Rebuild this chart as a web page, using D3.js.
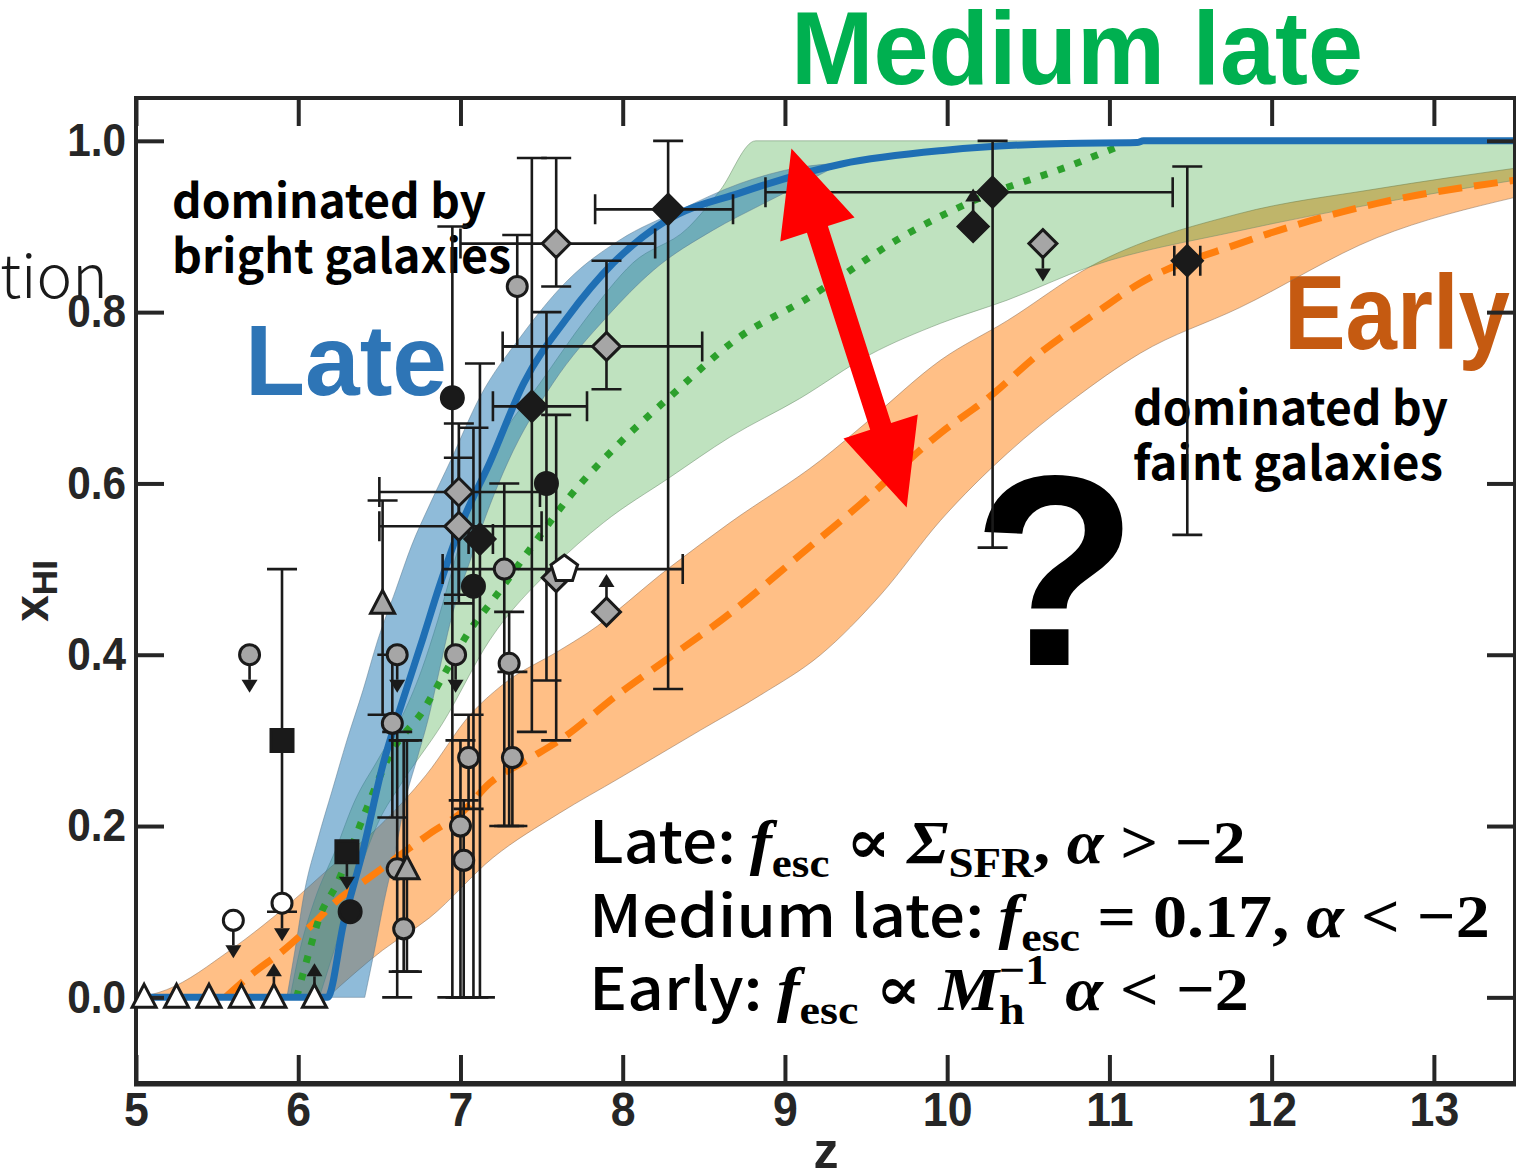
<!DOCTYPE html>
<html>
<head>
<meta charset="utf-8">
<script src="https://cdn.jsdelivr.net/npm/d3@7"></script>
<style>
  body { margin: 0; background: #fff; }
  svg { display: block; }
  .err line, .err path { stroke: #1a1a1a; stroke-width: 2.6; fill: none; }
  .lim path.head { fill: #1a1a1a; stroke: none; }
  .mk { stroke: #1a1a1a; stroke-width: 3; }
</style>
</head>
<body>
<div id="chart"></div>
<script>
/* ---- axes ---- */
var tickZ = [5, 6, 7, 8, 9, 10, 11, 12, 13];
var tickX = [0, 0.2, 0.4, 0.6, 0.8, 1.0];

/* ---- models: median lines [z, xHI] ---- */
var lateLine = [[5.0,0],[6.18,0],[6.28,0.087],[6.40,0.172],[6.52,0.27],[6.65,0.35],[6.77,0.42],[6.87,0.48],[7.0,0.55],[7.18,0.624],[7.39,0.717],[7.66,0.794],[7.94,0.857],[8.27,0.907],[8.72,0.939],[9.35,0.973],[9.99,0.989],[10.73,0.997],[11.17,0.998],[11.21,1.0],[13.5,1.0]];
var mediumLine = [[5.99,0],[6.07,0.055],[6.13,0.093],[6.24,0.133],[6.40,0.210],[6.57,0.285],[6.77,0.335],[6.89,0.374],[7.06,0.429],[7.20,0.464],[7.47,0.534],[7.67,0.584],[7.98,0.647],[8.29,0.701],[8.72,0.771],[9.12,0.814],[9.76,0.892],[10.21,0.934],[10.73,0.969],[11.05,0.993]];
var earlyLine = [[5.55,0],[5.72,0.028],[5.91,0.055],[6.07,0.082],[6.24,0.113],[6.44,0.140],[6.67,0.172],[6.81,0.191],[7.02,0.218],[7.18,0.250],[7.41,0.277],[7.61,0.300],[7.98,0.355],[8.29,0.397],[8.66,0.448],[9.09,0.516],[9.46,0.575],[9.96,0.659],[10.26,0.701],[10.57,0.752],[10.88,0.794],[11.19,0.834],[11.80,0.880],[12.65,0.927],[13.5,0.954]];

/* ---- model ranges: upper / lower edges ---- */
var lateUpper = [[5.93,0],[5.98,0.055],[6.04,0.125],[6.12,0.184],[6.21,0.242],[6.30,0.300],[6.40,0.359],[6.49,0.417],[6.60,0.475],[6.70,0.528],[6.81,0.575],[6.94,0.627],[7.12,0.701],[7.37,0.771],[7.66,0.837],[7.98,0.884],[8.35,0.919],[8.72,0.950],[9.09,0.969],[9.35,0.974]];
var lateLower = [[6.41,0],[6.47,0.055],[6.53,0.113],[6.60,0.172],[6.66,0.230],[6.73,0.277],[6.80,0.324],[6.87,0.382],[6.94,0.440],[7.06,0.510],[7.18,0.574],[7.29,0.624],[7.57,0.717],[7.90,0.794],[8.19,0.849],[8.56,0.896],[8.85,0.925],[9.09,0.948],[9.35,0.974]];
var mediumUpper = [[5.95,0],[6.01,0.055],[6.10,0.113],[6.23,0.172],[6.35,0.230],[6.49,0.277],[6.63,0.324],[6.76,0.382],[6.86,0.440],[7.00,0.533],[7.12,0.603],[7.24,0.650],[7.49,0.717],[7.78,0.794],[8.06,0.857],[8.40,0.898],[8.60,0.942],[8.82,1.0],[9.5,1.0],[13.5,1.0]];
var mediumLower = [[6.13,0],[6.26,0.078],[6.38,0.149],[6.50,0.207],[6.63,0.248],[6.89,0.320],[7.18,0.417],[7.57,0.502],[7.88,0.554],[8.29,0.607],[8.66,0.654],[9.09,0.699],[9.52,0.750],[9.96,0.787],[10.37,0.814],[10.88,0.853],[11.80,0.895],[12.65,0.927],[13.5,0.954]];
var earlyUpper = [[5.0,0],[5.09,0.003],[5.19,0.009],[5.58,0.055],[5.95,0.110],[6.20,0.152],[6.50,0.200],[6.79,0.260],[7.06,0.330],[7.26,0.365],[7.61,0.405],[7.78,0.425],[8.29,0.502],[8.66,0.554],[9.22,0.627],[9.52,0.674],[9.96,0.744],[10.37,0.790],[10.88,0.853],[11.80,0.915],[12.65,0.944],[13.5,0.968]];
var earlyLower = [[6.18,0],[6.52,0.055],[6.81,0.093],[7.20,0.163],[7.61,0.215],[7.98,0.256],[8.48,0.312],[8.85,0.353],[9.22,0.400],[9.59,0.470],[9.96,0.557],[10.37,0.635],[10.77,0.697],[11.19,0.752],[11.80,0.805],[12.65,0.887],[13.5,0.934]];

/* ---- observations: [z, xHI, xHI_lo, xHI_hi, z_lo, z_hi, limit] ---- */
var grayCircles = [
  [5.70, 0.40, null, null, null, null, "ul"],
  [6.61, 0.40, null, null, null, null, "ul"],
  [6.58, 0.32, 0.21, 0.40, null, null, null],
  [6.61, 0.15, 0.00, 0.31, null, null, null],
  [6.65, 0.08, 0.03, 0.30, null, null, null],
  [6.97, 0.40, null, null, null, null, "ul"],
  [7.05, 0.28, 0.22, 0.33, null, null, null],
  [7.00, 0.20, 0.00, 0.30, null, null, null],
  [7.02, 0.16, 0.00, 0.23, null, null, null],
  [7.35, 0.83, 0.76, 0.89, null, null, null],
  [7.27, 0.50, 0.20, 0.60, null, null, null],
  [7.30, 0.39, 0.20, 0.45, null, null, null],
  [7.32, 0.28, 0.20, 0.38, null, null, null]
];
var blackCircles = [
  [6.32, 0.10, null, null, null, null, null],
  [6.95, 0.70, 0.00, 0.90, null, null, null],
  [7.08, 0.48, 0.00, 0.665, null, null, null],
  [7.53, 0.60, 0.37, 0.80, null, null, null]
];
var whiteCircles = [
  [5.60, 0.09, null, null, null, null, "ul"],
  [5.90, 0.11, null, null, null, null, "ul"]
];
var blackSquares = [
  [5.90, 0.30, 0.10, 0.50, null, null, null],
  [6.30, 0.17, null, null, null, null, "ul"]
];
var grayDiamonds = [
  [7.59, 0.88, 0.83, 0.98, 7.00, 8.20, null],
  [7.90, 0.76, 0.71, 0.86, 7.26, 8.49, null],
  [6.99, 0.59, 0.47, 0.67, 6.50, 7.49, null],
  [6.99, 0.55, 0.46, 0.63, 6.50, 7.50, null],
  [7.59, 0.49, 0.30, 0.68, null, null, null],
  [7.90, 0.45, null, null, null, null, "ll"],
  [10.59, 0.88, null, null, null, null, "ul"]
];
var blackDiamonds = [
  [7.44, 0.69, 0.31, 0.98, 7.20, 7.78, null],
  [7.12, 0.535, 0.00, 0.74, 7.05, 7.20, null],
  [8.28, 0.92, 0.36, 1.00, 7.83, 8.68, null],
  [10.28, 0.94, 0.525, 1.00, 8.88, 11.39, null],
  [10.16, 0.90, null, null, null, null, "ll"],
  [11.48, 0.86, 0.54, 0.97, 11.40, 11.56, null]
];
var grayTriangles = [
  [6.52, 0.46, 0.33, 0.58, null, null, null],
  [6.67, 0.15, 0.03, 0.30, null, null, null]
];
var whiteTriangles = [
  [5.05, 0, null, null, null, null, null],
  [5.25, 0, null, null, null, null, null],
  [5.45, 0, null, null, null, null, null],
  [5.65, 0, null, null, null, null, null],
  [5.85, 0, null, null, null, null, "ll"],
  [6.10, 0, null, null, null, null, "ll"]
];
var whitePentagons = [
  [7.64, 0.50, null, null, 6.89, 8.37, null]
];

/* red double arrow between the two scenarios (data units) */
var arrowFrom = [9.04, 0.991], arrowTo = [9.75, 0.572];

/* ---------------------------------------------------------------- */
var w = 1516, h = 1171;
var x = d3.scaleLinear().domain([5, 13.5]).range([136, 1515]);
var y = d3.scaleLinear().domain([-0.1, 1.05]).range([1083, 98]);

var svg = d3.select("#chart").append("svg").attr("width", w).attr("height", h);
svg.append("defs").append("clipPath").attr("id", "plotclip").append("rect")
  .attr("x", 136).attr("y", 98).attr("width", 1379).attr("height", 985);

var sans = '"Liberation Sans", Arial, sans-serif';
var jp = '"Noto Sans CJK JP", "Noto Sans", sans-serif';
var serif = '"Liberation Serif", "DejaVu Serif", serif';

function fit(sel, len) {
  sel.attr("textLength", len).attr("lengthAdjust", "spacingAndGlyphs");
}
function squeeze(sel, f) {
  sel.each(function () {
    var l = this.getComputedTextLength();
    d3.select(this).attr("textLength", l * f).attr("lengthAdjust", "spacingAndGlyphs");
  });
}

/* texts under the data */
svg.append("text").attr("x", 0).attr("y", 298)
  .style("font-family", jp).style("font-weight", 300).style("font-size", "60px")
  .attr("fill", "#1a1a1a").text("tion");

fit(svg.append("text").attr("x", 791).attr("y", 84)
  .style("font-family", sans).style("font-weight", "bold").style("font-size", "103px")
  .attr("fill", "#00B050").text("Medium late"), 572);
fit(svg.append("text").attr("x", 245).attr("y", 395)
  .style("font-family", sans).style("font-weight", "bold").style("font-size", "100px")
  .attr("fill", "#2E75B6").text("Late"), 202);
fit(svg.append("text").attr("x", 1284).attr("y", 349)
  .style("font-family", sans).style("font-weight", "bold").style("font-size", "105px")
  .attr("fill", "#C55A11").text("Early"), 226);

var notes = [
  ["dominated by", 172, 218, 314],
  ["bright galaxies", 172, 273, 339],
  ["dominated by", 1133, 425, 315],
  ["faint galaxies", 1133, 480, 310]
];
notes.forEach(function (n) {
  fit(svg.append("text").attr("x", n[1]).attr("y", n[2])
    .style("font-family", jp).style("font-weight", "bold").style("font-size", "47px")
    .attr("fill", "#000").text(n[0]), n[3]);
});

svg.append("text").attr("x", 1055).attr("y", 665).attr("text-anchor", "middle")
  .style("font-family", sans).style("font-weight", "bold").style("font-size", "272px")
  .attr("fill", "#000").text("?");

/* formula block */
var fStyle = {
  t: { fam: jp, wt: 500, st: "normal", sz: 58, sh: 0 },
  i: { fam: serif, wt: "bold", st: "italic", sz: 62, sh: 0 },
  o: { fam: serif, wt: "bold", st: "normal", sz: 62, sh: 0 },
  s: { fam: serif, wt: "bold", st: "normal", sz: 42, sh: 14 },
  p: { fam: serif, wt: "bold", st: "normal", sz: 42, sh: -26 }
};
var formulas = [
  { y: 863, width: 657, parts: [["Late: ", "t"], ["f", "i"], ["esc", "s"], [" \u221D ", "o"], ["\u03A3", "i"], ["SFR", "s"], [", ", "o"], ["\u03B1", "i"], [" > \u22122", "o"]] },
  { y: 937, width: 901, parts: [["Medium late: ", "t"], ["f", "i"], ["esc", "s"], [" = 0.17, ", "o"], ["\u03B1", "i"], [" < \u22122", "o"]] },
  { y: 1010, width: 660, parts: [["Early: ", "t"], ["f", "i"], ["esc", "s"], [" \u221D ", "o"], ["M", "i"], ["h", "s"], ["\u22121", "p", "back"], [" \u03B1", "i"], [" < \u22122", "o"]] }
];
formulas.forEach(function (f) {
  var g = svg.append("g");
  var t = g.append("text").attr("x", 0).attr("y", 0).style("white-space", "pre").attr("fill", "#000");
  var cur = 0, prev = null;
  f.parts.forEach(function (p) {
    var s = fStyle[p[1]];
    var ts = t.append("tspan").text(p[0])
      .style("font-family", s.fam).style("font-weight", s.wt).style("font-style", s.st)
      .style("font-size", s.sz + "px").attr("dy", s.sh - cur);
    if (p[2] === "back" && prev) ts.attr("dx", -prev.node().getComputedTextLength());
    cur = s.sh;
    prev = ts;
  });
  var bb = t.node().getBBox();
  var k = f.width / bb.width;
  g.attr("transform", "translate(" + (589 - bb.x * k) + "," + f.y + ") scale(" + k + ",1)");
});

/* bands and model lines */
var plot = svg.append("g").attr("clip-path", "url(#plotclip)");
var line = d3.line().x(function (d) { return x(d[0]); }).y(function (d) { return y(d[1]); })
  .curve(d3.curveMonotoneX);
function band(up, lo) {
  return line(up) + "L" + line(lo.slice().reverse()).slice(1) + "Z";
}
plot.append("path").attr("d", band(earlyUpper, earlyLower))
  .attr("fill", "#ff7f0e").attr("fill-opacity", 0.5)
  .attr("stroke", "#8a6a50").attr("stroke-opacity", 0.5).attr("stroke-width", 1);
plot.append("path").attr("d", band(mediumUpper, mediumLower))
  .attr("fill", "#2ca02c").attr("fill-opacity", 0.3)
  .attr("stroke", "#6a8a6a").attr("stroke-opacity", 0.5).attr("stroke-width", 1);
plot.append("path").attr("d", band(lateUpper, lateLower))
  .attr("fill", "#1f77b4").attr("fill-opacity", 0.5)
  .attr("stroke", "#5a7a90").attr("stroke-opacity", 0.5).attr("stroke-width", 1);

plot.append("path").attr("d", line(earlyLine)).attr("fill", "none")
  .attr("stroke", "#ff7f0e").attr("stroke-width", 7).attr("stroke-dasharray", "24,12");
plot.append("path").attr("d", line(mediumLine)).attr("fill", "none")
  .attr("stroke", "#2ca02c").attr("stroke-width", 7).attr("stroke-dasharray", "7,11");
plot.append("path").attr("d", line(lateLine)).attr("fill", "none")
  .attr("stroke", "#1f6fb4").attr("stroke-width", 7);

/* axes and frame */
var xb = svg.append("g").attr("transform", "translate(0,1083)")
  .call(d3.axisBottom(x).tickValues(tickZ).tickSizeInner(-28).tickSizeOuter(0).tickPadding(9));
var xt = svg.append("g").attr("transform", "translate(0,98)")
  .call(d3.axisTop(x).tickValues(tickZ).tickSizeInner(-28).tickSizeOuter(0).tickFormat(""));
var yl = svg.append("g").attr("transform", "translate(136,0)")
  .call(d3.axisLeft(y).tickValues(tickX).tickSizeInner(-28).tickSizeOuter(0).tickPadding(10).tickFormat(d3.format(".1f")));
var yr = svg.append("g").attr("transform", "translate(1515,0)")
  .call(d3.axisRight(y).tickValues(tickX).tickSizeInner(-28).tickSizeOuter(0).tickFormat(""));
[xb, xt, yl, yr].forEach(function (g) {
  g.select(".domain").remove();
  g.selectAll(".tick line").attr("stroke", "#262626").attr("stroke-width", 4);
  g.selectAll(".tick text").attr("fill", "#262626")
    .style("font-family", sans).style("font-weight", "bold");
});
xb.selectAll(".tick text").style("font-size", "48px");
yl.selectAll(".tick text").style("font-size", "46px");
squeeze(xb.selectAll(".tick text"), 0.93);
squeeze(yl.selectAll(".tick text"), 0.92);

svg.append("rect").attr("x", 136).attr("y", 98).attr("width", 1379).attr("height", 985)
  .attr("fill", "none").attr("stroke", "#262626").attr("stroke-width", 4);
svg.append("line").attr("x1", 134).attr("x2", 1516).attr("y1", 1084).attr("y2", 1084)
  .attr("stroke", "#262626").attr("stroke-width", 5);

svg.append("text").attr("x", 826).attr("y", 1168).attr("text-anchor", "middle")
  .style("font-family", sans).style("font-weight", "bold").style("font-size", "50px")
  .attr("fill", "#262626").text("z");
var yt = svg.append("text").attr("transform", "translate(48,591) rotate(-90)")
  .attr("text-anchor", "middle").attr("fill", "#262626")
  .style("font-family", sans).style("font-weight", "bold");
yt.append("tspan").style("font-size", "48px").text("x");
yt.append("tspan").style("font-size", "35px").attr("dy", 9).text("HI");

/* observations */
var pts = [];
function addSet(rows, shape, fill) {
  rows.forEach(function (r) {
    pts.push({ z: r[0], v: r[1], vlo: r[2], vhi: r[3], zlo: r[4], zhi: r[5], lim: r[6], shape: shape, fill: fill });
  });
}
addSet(whiteTriangles, "tri", "#ffffff");
addSet(grayCircles, "circle", "#a6a6a6");
addSet(whiteCircles, "circle", "#ffffff");
addSet(blackSquares, "square", "#1a1a1a");
addSet(blackCircles, "bcircle", "#1a1a1a");
addSet(grayTriangles, "tri", "#a6a6a6");
addSet(grayDiamonds, "diamond", "#a6a6a6");
addSet(whitePentagons, "penta", "#ffffff");
addSet(blackDiamonds, "bdiamond", "#1a1a1a");

var cap = 15;
var eb = svg.append("g").attr("class", "err");
var vErr = pts.filter(function (d) { return d.vlo !== null; });
var hErr = pts.filter(function (d) { return d.zlo !== null; });

eb.selectAll(".vbar").data(vErr).enter().append("path")
  .attr("d", function (d) {
    var cx = x(d.z), a = y(d.vlo), b = y(d.vhi);
    return "M" + cx + "," + a + "V" + b +
      "M" + (cx - cap) + "," + a + "H" + (cx + cap) +
      "M" + (cx - cap) + "," + b + "H" + (cx + cap);
  });
eb.selectAll(".hbar").data(hErr).enter().append("path")
  .attr("d", function (d) {
    var cy = y(d.v), a = x(d.zlo), b = x(d.zhi);
    return "M" + a + "," + cy + "H" + b +
      "M" + a + "," + (cy - cap) + "V" + (cy + cap) +
      "M" + b + "," + (cy - cap) + "V" + (cy + cap);
  });

var lims = pts.filter(function (d) { return d.lim; });
var lg = svg.append("g").attr("class", "err lim");
lims.forEach(function (d) {
  var cx = x(d.z), cy = y(d.v);
  var dir = d.lim === "ul" ? 1 : -1;
  var len = d.shape === "tri" ? 34 : 38;
  var tip = cy + dir * len, base = tip - dir * 13;
  lg.append("path").attr("d", "M" + cx + "," + cy + "V" + base);
  lg.append("path").attr("class", "head")
    .attr("d", "M" + cx + "," + tip + "L" + (cx - 8) + "," + base + "L" + (cx + 8) + "," + base + "Z");
});

function shapePath(s) {
  if (s === "circle") return "M10,0A10,10 0 1,1 -10,0A10,10 0 1,1 10,0Z";
  if (s === "bcircle") return "M11,0A11,11 0 1,1 -11,0A11,11 0 1,1 11,0Z";
  if (s === "square") return "M-11,-11H11V11H-11Z";
  if (s === "diamond") return "M0,-14L14,0L0,14L-14,0Z";
  if (s === "bdiamond") return "M0,-15L15,0L0,15L-15,0Z";
  if (s === "tri") return "M0,-13L12,10L-12,10Z";
  if (s === "penta") {
    var p = [];
    for (var i = 0; i < 5; i++) {
      var a = -Math.PI / 2 + i * 2 * Math.PI / 5;
      p.push((14 * Math.cos(a)).toFixed(2) + "," + (14 * Math.sin(a)).toFixed(2));
    }
    return "M" + p.join("L") + "Z";
  }
}
svg.append("g").selectAll("path").data(pts).enter().append("path")
  .attr("class", "mk")
  .attr("transform", function (d) { return "translate(" + x(d.z) + "," + y(d.v) + ")"; })
  .attr("d", function (d) { return shapePath(d.shape); })
  .attr("fill", function (d) { return d.fill; });

/* red arrow on top */
(function () {
  var ax = x(arrowFrom[0]), ay = y(arrowFrom[1]), bx = x(arrowTo[0]), by = y(arrowTo[1]);
  var dx = bx - ax, dy = by - ay, L = Math.sqrt(dx * dx + dy * dy);
  var ux = dx / L, uy = dy / L, nx = -uy, ny = ux;
  var hl = 85, hw = 39, sw = 11;
  function P(px, py, u, n) { return [px + ux * u + nx * n, py + uy * u + ny * n]; }
  var poly = [
    [ax, ay], P(ax, ay, hl, hw), P(ax, ay, hl, sw), P(bx, by, -hl, sw), P(bx, by, -hl, hw),
    [bx, by], P(bx, by, -hl, -hw), P(bx, by, -hl, -sw), P(ax, ay, hl, -sw), P(ax, ay, hl, -hw)
  ];
  svg.append("path").attr("d", "M" + poly.map(function (p) { return p.join(","); }).join("L") + "Z")
    .attr("fill", "#ff0000");
})();
</script>
</body>
</html>
